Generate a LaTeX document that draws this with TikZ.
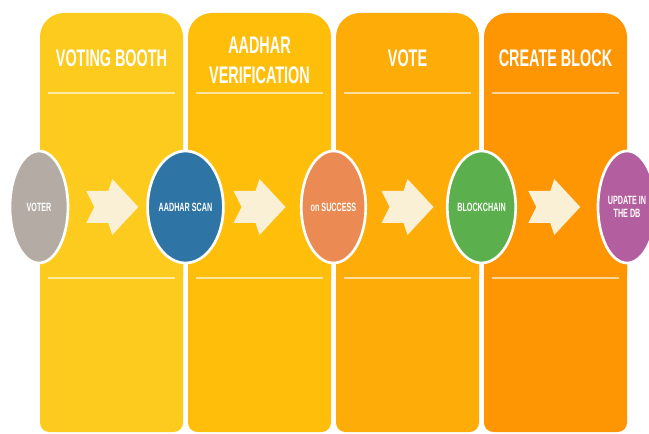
\documentclass[tikz,border=0pt]{standalone}
\usepackage{fontspec}
\setmainfont{Liberation Sans}
\newfontfamily\narrowfont[FakeStretch=0.6]{Liberation Sans}
\usetikzlibrary{shapes}
\usetikzlibrary{calc}
\definecolor{jaune1}{HTML}{FCCB1D}
\definecolor{jaune2}{HTML}{FEBE0A}
\definecolor{jaune3}{HTML}{FEAC08}
\definecolor{jaune4}{HTML}{FD9602}
\definecolor{creme}{HTML}{FAF0D6}
\definecolor{gris}{HTML}{B4ABA4}
\definecolor{bleu}{HTML}{2E75A6}
\definecolor{saumon}{HTML}{EB8A52}
\definecolor{vert}{HTML}{5BB04D}
\definecolor{violet}{HTML}{B35E9F}
\tikzstyle{haut}=[rounded corners=18pt]
\tikzstyle{bas}=[rounded corners=7pt]
\tikzstyle{titre}=[text=white,align=center,
        font=\narrowfont\bfseries\fontsize{18}{22.5}\selectfont]
\tikzstyle{trait}=[draw=white,draw opacity=0.6,line width=1.5pt]
\tikzstyle{etape}=[ellipse,draw=white,line width=2pt,
        minimum width=43.5pt,minimum height=84pt,inner sep=0pt,
        text=white,align=center,
        font=\narrowfont\bfseries\fontsize{9}{10}\selectfont]
\tikzset{fleche/.pic={
        \fill[creme] (-26,-16) -- (-4,-16) -- (0,-28) -- (26,0)
                -- (0,28) -- (-4,16) -- (-26,16) -- (-18,0) -- cycle;
}}

\begin{document}
\begin{tikzpicture}[x=0.75pt,y=-0.75pt]
\fill[white] (0,0) rectangle (649,434);
\clip (0,0) rectangle (649,434);
%Colonnes
\fill[jaune1,haut] (40,13) rectangle (183,300);
\fill[jaune1,bas] (40,200) rectangle (183,432);
\fill[jaune2,haut] (188,13) rectangle (331,300);
\fill[jaune2,bas] (188,200) rectangle (331,432);
\fill[jaune3,haut] (336,13) rectangle (479,300);
\fill[jaune3,bas] (336,200) rectangle (479,432);
\fill[jaune4,haut] (484,13) rectangle (627,300);
\fill[jaune4,bas] (484,200) rectangle (627,432);
%Titres
\node[titre] (t1) at (111.5,58) {VOTING BOOTH};
\node[titre] (t2) at (259.5,60) {AADHAR\\VERIFICATION};
\node[titre] (t3) at (407.5,58) {VOTE};
\node[titre] (t4) at (555.5,58) {CREATE BLOCK};
%Traits
\draw[trait] (48,93) -- (175,93);
\draw[trait] (196,93) -- (323,93);
\draw[trait] (344,93) -- (471,93);
\draw[trait] (492,93) -- (619,93);
\draw[trait] (48,278) -- (175,278);
\draw[trait] (196,278) -- (323,278);
\draw[trait] (344,278) -- (471,278);
\draw[trait] (492,278) -- (619,278);
%Etapes
\node[etape,fill=gris] (voter) at (39,207) {VOTER};
\node[etape,fill=bleu] (scan) at (185.5,207) {AADHAR SCAN};
\node[etape,fill=saumon] (succes) at (333.5,207) {on SUCCESS};
\node[etape,fill=vert] (bloc) at (481.5,207) {BLOCKCHAIN};
\node[etape,fill=violet] (maj) at (627,207) {UPDATE IN\\THE DB};
%Fleches
\pic at ($(voter)!0.5!(scan)$) {fleche};
\pic at ($(scan)!0.5!(succes)$) {fleche};
\pic at ($(succes)!0.5!(bloc)$) {fleche};
\pic at ($(bloc)!0.5!(maj)$) {fleche};
\end{tikzpicture}
\end{document}
